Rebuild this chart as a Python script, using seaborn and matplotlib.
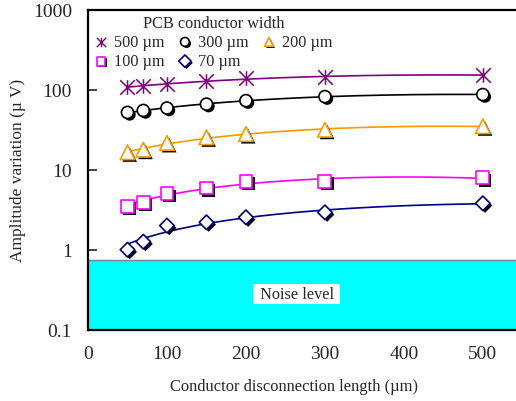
import numpy as np
import pandas as pd
import matplotlib
matplotlib.use("Agg")
import matplotlib.pyplot as plt
import matplotlib.patheffects as pe
from matplotlib.path import Path
import seaborn as sns

# Disconnection lengths (µm) and measured amplitude variation (µV) per conductor width
length = [50, 70, 100, 150, 200, 300, 500]
w500 = [107, 112, 118, 127, 140, 143, 153]
w300 = [52, 55, 59, 66, 73, 82, 87]
w200 = [16.5, 17.8, 21.6, 25.4, 27.9, 31.6, 34.9]
w100 = [3.5, 3.9, 5.0, 5.9, 7.2, 7.1, 7.9]
w70 = [1.0, 1.26, 2.0, 2.2, 2.54, 2.93, 3.8]
noise_level = 0.74

labels = ["500 µm", "300 µm", "200 µm", "100 µm", "70 µm"]
colors = ["#800080", "#000000", "#FF9900", "#FF00FF", "#000080"]

star = Path([(-1, -1), (1, 1), (-1, 1), (1, -1), (0, -1), (0, 1)],
            [Path.MOVETO, Path.LINETO, Path.MOVETO, Path.LINETO, Path.MOVETO, Path.LINETO])
markers = [star, "o", "^", "s", "D"]
sizes = [110, 75, 110, 85, 55]

sns.set_theme(style="white")
plt.rcParams["font.family"] = ["Liberation Serif", "DejaVu Serif"]

fig = plt.figure(figsize=(5.16, 4.02), dpi=100)
ax = fig.add_axes([88 / 516, (402 - 330.7) / 402, 1 - 88 / 516, (330.7 - 10.7) / 402])

ax.set_yscale("log")
ax.set_ylim(0.1, 1000)
ax.set_xlim(0, 542)

# noise floor band
ax.axhspan(0.1, noise_level, color="#00FFFF", zorder=0, lw=0)
ax.axhline(noise_level, color="#808080", lw=1.0, zorder=1)
ax.text(264.5, 0.279, " Noise level ", ha="center", va="center", fontsize=11.7,
        bbox=dict(boxstyle="square,pad=0.15", facecolor="white", edgecolor="none"), zorder=3)


def shadow(offset):
    return [pe.SimplePatchShadow(offset=offset, shadow_rgbFace="black", alpha=1.0), pe.Normal()]


series = [w500, w300, w200, w100, w70]
xs = np.linspace(50, 500, 200)
handles = []
for vals, lab, col, mk, sz in zip(series, labels, colors, markers, sizes):
    # second-order trend line through each series
    coef = np.polyfit(length, vals, 2)
    trend = pd.DataFrame({"x": xs, "y": np.polyval(coef, xs)})
    sns.lineplot(data=trend, x="x", y="y", color=col, lw=1.2, ax=ax, zorder=2)
    pts = pd.DataFrame({"x": length, "y": vals})
    if mk is star:
        sns.scatterplot(data=pts, x="x", y="y", marker=mk, s=sz, color=col,
                        edgecolor=col, linewidth=1.1, ax=ax, zorder=4)
        h = ax.scatter([], [], marker=mk, s=45, color=col, edgecolor=col, linewidth=1.0)
    else:
        sns.scatterplot(data=pts, x="x", y="y", marker=mk, s=sz, facecolor="white",
                        edgecolor=col, linewidth=1.2, ax=ax, zorder=4)
        ax.collections[-1].set_path_effects(shadow((1.6, -1.6)))
        h = ax.scatter([], [], marker=mk, s=40, facecolor="white", edgecolor=col, linewidth=1.2)
        h.set_path_effects(shadow((1.2, -1.2)))
    handles.append(h)

order = [0, 3, 1, 4, 2]
leg = ax.legend([handles[i] for i in order], [labels[i] for i in order],
                title="PCB conductor width", ncol=3, frameon=False,
                loc="upper left", bbox_to_anchor=(0.0, 1.004), borderaxespad=0,
                fontsize=11.7, title_fontsize=11.7, handletextpad=0.4,
                columnspacing=0.85, labelspacing=0.2, handlelength=0.8, borderpad=0.4)

ax.set_xticks([0, 100, 200, 300, 400, 500])
ax.set_yticks([0.1, 1, 10, 100, 1000])
ax.set_yticklabels(["0.1", "1", "10", "100", "1000"])
ax.minorticks_off()
ax.tick_params(axis="y", direction="in", length=6.5, width=1.2, pad=11.5, labelsize=14, left=True)
ax.tick_params(axis="x", length=0, pad=11, labelsize=14, bottom=False)

ax.set_xlabel("Conductor disconnection length (µm)", fontsize=11.9, labelpad=11.5)
ax.xaxis.label.set_x(0.481)
ax.set_ylabel("Amplitude variation (µ V)", fontsize=12.5, labelpad=5)

for side in ["left", "top", "bottom"]:
    ax.spines[side].set_color("black")
    ax.spines[side].set_linewidth(1.6)
ax.spines["right"].set_visible(False)
ax.grid(False)

fig.savefig("out.png", dpi=100)
